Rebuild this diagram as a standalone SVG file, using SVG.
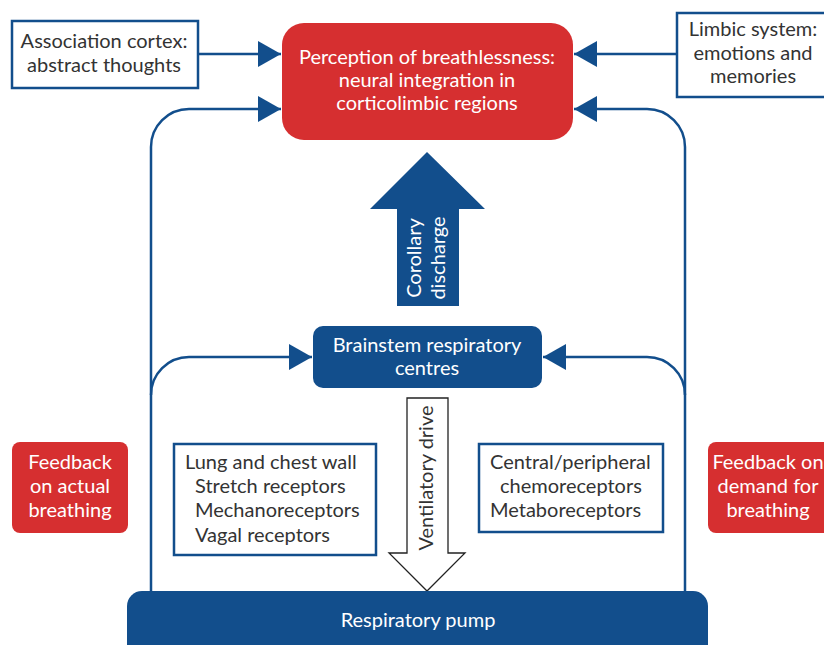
<svg xmlns="http://www.w3.org/2000/svg" width="824" height="645" viewBox="0 0 824 645">
<defs>
<marker id="ah" markerUnits="userSpaceOnUse" markerWidth="24" markerHeight="26" refX="23" refY="13" orient="auto">
<path d="M0,0 L23,13 L0,26 Z" fill="#124e8c"/>
</marker>
<style>
.t{font-family:Lato,"Open Sans","Liberation Sans",sans-serif;font-size:20px;fill:#333}
.w{fill:#fff}
.c{text-anchor:middle}
.ob{fill:#fff;stroke:#124e8c;stroke-width:2.5}
.blue{fill:#124e8c}
.red{fill:#d62f30}
.ln{fill:none;stroke:#124e8c;stroke-width:2.5}
</style>
</defs>
<rect width="824" height="645" fill="#fff"/>
<g id="connectors">
<path class="ln" d="M198,54 H281" marker-end="url(#ah)"/>
<path class="ln" d="M676,54 H574" marker-end="url(#ah)"/>
<path class="ln" d="M151,592 V147 A38,38 0 0 1 189,109 H281" marker-end="url(#ah)"/>
<path class="ln" d="M685,592 V147 A38,38 0 0 0 647,109 H574" marker-end="url(#ah)"/>
<path class="ln" d="M151,395 A38,38 0 0 1 189,357 H312" marker-end="url(#ah)"/>
<path class="ln" d="M685,395 A38,38 0 0 0 647,357 H543" marker-end="url(#ah)"/>
</g>
<g id="association">
<rect class="ob" x="12" y="21" width="186" height="67"/>
<text class="t c" x="104" y="48">Association cortex:</text>
<text class="t c" x="104" y="72">abstract thoughts</text>
</g>
<g id="perception">
<rect class="red" x="282" y="23" width="291" height="117" rx="22"/>
<text class="t c w" x="427" y="64">Perception of breathlessness:</text>
<text class="t c w" x="427" y="87">neural integration in</text>
<text class="t c w" x="427" y="110">corticolimbic regions</text>
</g>
<g id="limbic">
<rect class="ob" x="677" y="13" width="150" height="84"/>
<text class="t c" x="753" y="36">Limbic system:</text>
<text class="t c" x="753" y="60">emotions and</text>
<text class="t c" x="753" y="83">memories</text>
</g>
<g id="corollary">
<path class="blue" d="M397,306 V209 H370 L427,152 L485,209 H459 V306 Z"/>
<text class="t c w" transform="translate(421,258) rotate(-90)">Corollary</text>
<text class="t c w" transform="translate(445,258) rotate(-90)">discharge</text>
</g>
<g id="brainstem">
<rect class="blue" x="313" y="326" width="229" height="62" rx="10"/>
<text class="t c w" x="427" y="352">Brainstem respiratory</text>
<text class="t c w" x="427" y="375">centres</text>
</g>
<g id="ventilatory">
<path d="M407,398 V553 H389 L427,591 L465,553 H448 V398 Z" fill="#fff" stroke="#222" stroke-width="1.3"/>
<text class="t c" transform="translate(433,478) rotate(-90)">Ventilatory drive</text>
</g>
<g id="feedback-actual">
<rect class="red" x="12" y="442" width="116" height="91" rx="8"/>
<text class="t c w" x="70" y="469">Feedback</text>
<text class="t c w" x="70" y="493">on actual</text>
<text class="t c w" x="70" y="517">breathing</text>
</g>
<g id="lung">
<rect class="ob" x="174" y="444" width="202" height="111"/>
<text class="t" x="185" y="469">Lung and chest wall</text>
<text class="t" x="195" y="493">Stretch receptors</text>
<text class="t" x="195" y="517">Mechanoreceptors</text>
<text class="t" x="195" y="542">Vagal receptors</text>
</g>
<g id="chemo">
<rect class="ob" x="479" y="444" width="184" height="88"/>
<text class="t" x="490" y="469">Central/peripheral</text>
<text class="t" x="500" y="493">chemoreceptors</text>
<text class="t" x="490" y="517">Metaboreceptors</text>
</g>
<g id="feedback-demand">
<rect class="red" x="708" y="442" width="130" height="91" rx="8"/>
<text class="t c w" x="768" y="469">Feedback on</text>
<text class="t c w" x="768" y="493">demand for</text>
<text class="t c w" x="768" y="517">breathing</text>
</g>
<g id="pump">
<rect class="blue" x="127" y="591" width="581" height="75" rx="15"/>
<text class="t c w" x="418" y="627">Respiratory pump</text>
</g>
</svg>
